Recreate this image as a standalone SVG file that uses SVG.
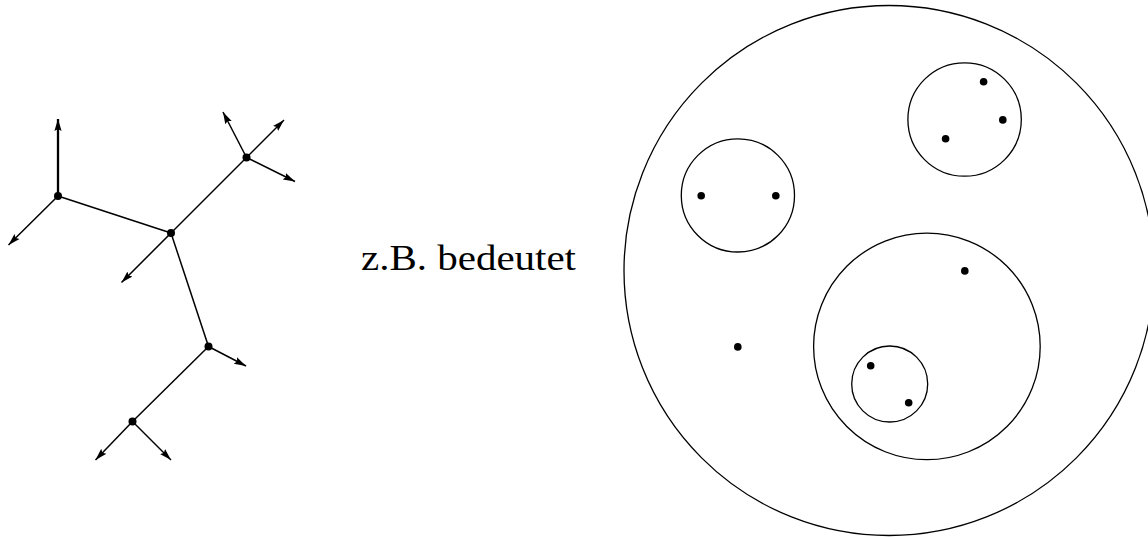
<svg xmlns="http://www.w3.org/2000/svg" width="1148" height="537" viewBox="0 0 1148 537">
<style>
.edge{stroke:#000;stroke-width:1.5;fill:none}
.arr{stroke:#000;stroke-width:1.5;fill:none;marker-end:url(#ah)}
.thick{stroke-width:2.3}
.dot{fill:#000}
.ring{fill:none;stroke:#000;stroke-width:1.3}
.lbl{font-family:"Liberation Serif","Times New Roman",serif;font-size:35px;fill:#000}
</style>
<defs>
<marker id="ah" markerUnits="userSpaceOnUse" markerWidth="14" markerHeight="10" refX="12" refY="4" orient="auto" viewBox="0 0 14 8">
<path d="M0,0.4 L12,4 L0,7.6 L2,4 Z" fill="#000"/>
</marker>
</defs>
<rect width="1148" height="537" fill="#fff"/>
<g id="connectors">
<line class="edge" x1="58" y1="196" x2="171" y2="233"/>
<line class="edge" x1="171" y1="233" x2="246.5" y2="157.5"/>
<line class="edge" x1="171" y1="233" x2="208.5" y2="346.5"/>
<line class="edge" x1="208.5" y1="346.5" x2="132.5" y2="421.5"/>
<line class="arr thick" x1="58" y1="196" x2="58" y2="119"/>
<line class="arr" x1="58" y1="196" x2="8.5" y2="245"/>
<line class="arr" x1="171" y1="233" x2="121.5" y2="282.5"/>
<line class="arr" x1="246.5" y1="157.5" x2="223" y2="112"/>
<line class="arr" x1="246.5" y1="157.5" x2="284" y2="120"/>
<line class="arr" x1="246.5" y1="157.5" x2="295" y2="181.5"/>
<line class="arr" x1="208.5" y1="346.5" x2="246" y2="366"/>
<line class="arr" x1="132.5" y1="421.5" x2="95.5" y2="460"/>
<line class="arr" x1="132.5" y1="421.5" x2="171" y2="460"/>
</g>
<g id="nodeA"><circle class="dot" cx="58" cy="196" r="4"/></g>
<g id="nodeB"><circle class="dot" cx="171" cy="233" r="4"/></g>
<g id="nodeC"><circle class="dot" cx="246.5" cy="157.5" r="4"/></g>
<g id="nodeD"><circle class="dot" cx="208.5" cy="346.5" r="4"/></g>
<g id="nodeE"><circle class="dot" cx="132.5" cy="421.5" r="4"/></g>
<g id="label"><text class="lbl" x="361" y="270" textLength="215" lengthAdjust="spacingAndGlyphs">z.B. bedeutet</text></g>
<g id="outer"><circle class="ring" cx="889" cy="270.5" r="265"/></g>
<g id="setTopRight">
<circle class="ring" cx="964.6" cy="119.5" r="56.7"/>
<circle class="dot" cx="983.6" cy="81.8" r="3.8"/>
<circle class="dot" cx="1002.8" cy="119.9" r="3.8"/>
<circle class="dot" cx="945.6" cy="138.7" r="3.8"/>
</g>
<g id="setLeft">
<circle class="ring" cx="737.9" cy="195.4" r="56.6"/>
<circle class="dot" cx="701.2" cy="195.8" r="3.8"/>
<circle class="dot" cx="775.8" cy="195.8" r="3.8"/>
</g>
<g id="setBig">
<circle class="ring" cx="926.9" cy="346.4" r="113.3"/>
<circle class="dot" cx="964.8" cy="270.9" r="3.8"/>
</g>
<g id="setSmall">
<circle class="ring" cx="889.7" cy="384" r="38"/>
<circle class="dot" cx="870.7" cy="365.7" r="3.8"/>
<circle class="dot" cx="908.7" cy="402.7" r="3.8"/>
</g>
<g id="lone"><circle class="dot" cx="737.8" cy="346.9" r="3.8"/></g>
</svg>
